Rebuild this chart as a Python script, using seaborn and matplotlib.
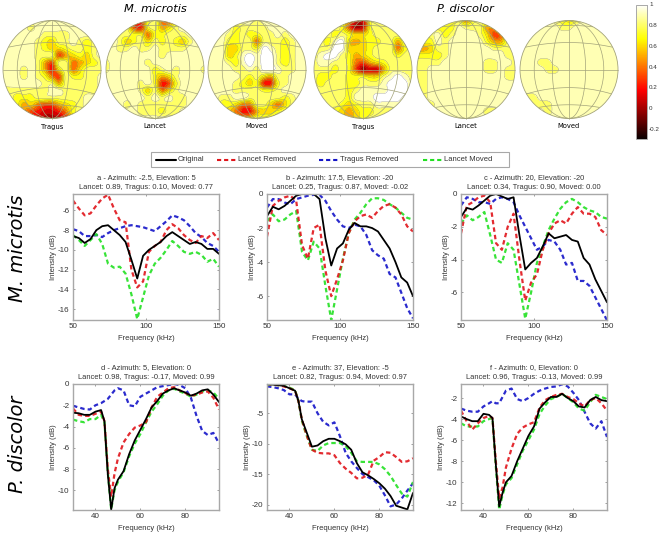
import numpy as np
import seaborn as sns
import matplotlib
matplotlib.use("Agg")
import matplotlib.pyplot as plt
from matplotlib.cm import ScalarMappable
from matplotlib.colors import Normalize
from matplotlib.lines import Line2D
from matplotlib.patches import Circle, Rectangle

tragus_mm = [
    [9,9,9,9,9,9,9,9,9,9,9,9,9,9,9],
    [9,9,9,9,8,9,9,9,9,9,9,9,9,9,9],
    [9,9,9,9,9,9,8,8,8,8,9,9,9,9,9],
    [9,9,9,9,9,8,7,6,8,8,9,8,7,8,9],
    [9,9,9,9,9,8,7,6,6,7,8,8,7,8,9],
    [9,9,9,9,9,8,8,8,3,5,6,7,6,8,9],
    [9,9,9,9,9,8,5,3,8,8,4,5,6,7,8],
    [9,9,9,8,9,8,5,2,6,8,4,6,8,8,8],
    [9,9,9,8,9,8,7,4,3,8,7,7,8,8,9],
    [9,9,9,9,9,9,8,8,5,8,8,8,8,8,9],
    [8,8,8,8,8,8,8,9,9,8,8,8,8,8,9],
    [9,8,7,7,7,8,8,8,8,8,8,8,9,9,9],
    [9,8,7,5,6,4,3,3,5,6,7,8,9,9,9],
    [9,8,7,5,3,2,1,1,2,4,7,8,9,9,9],
    [9,9,8,6,3,1,0,0,0,2,6,8,9,9,9],
]
lancet_mm = [
    [9,9,9,9,5,3,7,8,4,3,6,9,9,9,9],
    [9,9,9,8,3,2,7,8,5,6,8,9,9,9,9],
    [9,9,8,8,7,7,4,7,7,8,8,8,9,9,9],
    [9,9,8,6,7,8,6,8,7,8,7,6,8,9,9],
    [9,9,8,8,9,8,8,9,8,8,8,8,9,9,9],
    [9,9,9,9,9,9,9,9,8,9,9,9,9,9,9],
    [8,9,9,9,9,9,8,9,9,9,9,9,9,9,9],
    [8,9,9,9,9,9,9,7,8,9,8,9,9,9,8],
    [9,9,9,9,9,9,9,7,5,6,8,9,9,9,9],
    [9,9,9,9,9,8,9,7,2,3,7,9,9,9,9],
    [9,9,9,9,9,8,6,8,4,6,8,9,9,9,9],
    [9,9,9,9,9,9,8,9,8,9,8,8,9,9,9],
    [9,9,9,8,9,8,8,8,8,8,8,8,9,9,9],
    [9,9,9,9,9,8,8,8,7,8,8,9,9,9,9],
    [9,9,9,9,9,9,9,9,9,9,9,9,9,9,9],
]
moved_mm = [
    [9,9,9,9,9,9,9,8,9,9,9,9,9,9,9],
    [9,9,9,9,7,8,8,8,8,9,9,9,9,9,9],
    [9,9,9,8,7,8,7,7,8,8,9,8,9,9,9],
    [9,9,9,7,7,8,8,4,8,8,8,7,8,9,9],
    [9,9,9,6,6,8,8,7,10,9,8,7,8,9,9],
    [9,9,9,6,7,9,10,9,10,10,8,7,8,9,9],
    [9,9,9,8,7,9,10,9,10,10,8,7,8,9,9],
    [9,9,9,9,8,8,9,8,10,10,9,8,8,9,9],
    [9,9,9,9,9,8,7,8,6,5,8,8,9,9,9],
    [9,9,9,9,8,7,6,7,2,2,7,8,9,9,9],
    [9,9,9,9,8,8,8,8,7,7,8,9,9,9,9],
    [9,9,8,8,9,9,8,8,8,8,8,7,8,9,9],
    [9,9,7,7,6,4,4,8,8,6,4,6,8,9,9],
    [9,9,8,6,4,2,2,5,6,6,7,8,9,9,9],
    [9,9,9,8,6,5,6,8,8,8,9,9,9,9,9],
]
tragus_pd = [
    [8,8,8,8,8,5,1,1,7,8,8,8,8,8,8],
    [8,8,8,8,7,3,0,1,7,8,8,8,8,8,8],
    [8,8,8,7,8,7,6,6,7,8,8,8,8,8,8],
    [8,8,7,9,10,6,5,6,7,7,8,8,5,8,8],
    [8,8,8,10,10,6,6,6,7,8,8,8,4,7,8],
    [8,9,10,10,8,7,5,6,7,8,8,8,7,8,8],
    [8,9,9,8,8,7,4,3,5,6,7,8,8,8,8],
    [8,8,8,7,8,7,3,0,1,1,5,8,8,8,8],
    [8,7,7,8,8,7,7,7,6,6,8,9,10,9,8],
    [8,7,8,8,8,7,7,8,8,8,9,10,10,10,8],
    [8,8,8,8,8,7,8,9,9,9,9,10,10,10,8],
    [8,8,8,8,8,7,9,9,9,10,10,10,10,9,8],
    [8,8,8,8,7,6,7,8,8,9,9,9,9,8,8],
    [8,8,8,7,6,5,6,7,7,8,8,8,8,8,8],
    [8,8,8,7,6,5,6,7,8,8,8,8,8,8,8],
]
lancet_pd = [
    [9,9,9,8,8,7,7,4,7,8,8,9,9,9,9],
    [8,8,8,7,7,7,9,8,8,8,5,5,9,9,9],
    [8,8,8,9,7,8,9,9,9,8,6,3,4,8,8],
    [7,7,7,9,8,9,9,9,9,9,7,5,5,8,8],
    [5,5,6,8,8,9,9,9,9,9,9,8,8,8,8],
    [7,7,7,7,8,9,9,9,9,9,9,9,9,8,8],
    [8,8,8,8,9,9,9,9,9,9,8,8,9,9,8],
    [8,8,9,9,9,9,9,9,9,9,8,8,9,8,8],
    [8,8,9,9,9,9,9,9,9,9,9,9,9,8,8],
    [8,8,9,9,9,9,9,9,9,9,9,9,9,9,9],
    [8,8,9,9,9,9,9,9,9,9,9,9,9,9,9],
    [8,8,9,9,9,9,9,9,9,9,9,9,9,9,9],
    [8,8,8,9,9,9,9,9,9,9,9,9,9,9,9],
    [9,9,9,9,9,9,9,9,9,9,8,8,9,9,9],
    [9,9,9,9,9,9,9,9,9,9,9,9,9,9,9],
]
moved_pd = [
    [9,9,9,9,9,8,7,6,7,9,9,9,9,9,9],
    [9,9,9,9,9,9,8,8,9,9,9,9,9,9,9],
    [9,9,9,9,9,9,9,9,9,9,9,9,9,9,9],
    [9,9,9,9,9,9,9,9,9,9,9,9,9,9,9],
    [9,9,9,9,9,9,9,9,9,9,9,9,9,9,9],
    [9,9,9,9,9,9,9,9,9,9,9,9,9,9,9],
    [9,9,9,8,8,9,9,9,9,9,9,9,9,9,9],
    [9,9,9,9,8,8,9,9,9,9,9,9,9,9,9],
    [9,9,9,9,9,9,9,9,9,9,9,9,9,9,9],
    [9,9,9,9,9,9,9,9,9,9,9,9,9,9,9],
    [9,9,9,9,9,9,9,9,9,9,9,9,9,9,9],
    [9,8,8,9,9,9,9,9,9,9,9,9,9,9,9],
    [9,9,8,8,8,9,9,9,9,9,9,9,9,9,9],
    [9,9,9,9,8,9,9,9,9,9,9,9,9,9,9],
    [9,9,9,9,9,9,9,9,9,9,9,9,9,9,9],
]
dome_maps = [tragus_mm, lancet_mm, moved_mm, tragus_pd, lancet_pd, moved_pd]
dome_labels = ["Tragus", "Lancet", "Moved", "Tragus", "Lancet", "Moved"]
dome_centres = [52, 155, 257, 363, 466, 569]

# ---- frequency curves
freq_top = [50,54,58,62,66,70,74,78,82,86,90,94,98,102,106,110,114,118,122,126,130,134,138,142,146,150]
freq_bottom = [30,32.5,35,37.5,40,42.5,44,45.5,47,48.5,50,52.5,55,57.5,60,62.5,65,67.5,70,72.5,75,77.5,80,82.5,85,87.5,90,92.5,95]

a_orig = [-8.6,-8.8,-9.3,-8.9,-8.0,-7.6,-7.5,-8.0,-8.5,-9.2,-11.0,-12.9,-10.6,-10.0,-9.6,-9.2,-8.6,-8.2,-8.6,-9.0,-9.4,-9.2,-9.4,-9.9,-9.9,-10.4]
a_lancet = [-5.0,-5.8,-6.5,-6.3,-5.5,-4.8,-4.4,-5.8,-7.0,-7.2,-12.0,-13.8,-13.2,-10.2,-9.6,-9.2,-8.0,-7.4,-7.8,-8.5,-9.0,-9.3,-8.6,-8.8,-8.3,-9.0]
a_tragus = [-7.9,-8.1,-8.6,-8.6,-8.5,-8.7,-8.3,-8.0,-7.8,-7.6,-7.5,-7.6,-7.7,-7.9,-8.1,-7.6,-7.1,-6.5,-6.7,-7.0,-7.6,-8.3,-8.7,-9.3,-9.6,-10.2]
a_moved = [-8.5,-9.0,-9.6,-9.0,-8.4,-9.4,-11.4,-11.8,-11.7,-12.4,-14.5,-17.0,-14.8,-12.6,-11.4,-10.8,-10.0,-9.1,-9.6,-10.2,-10.4,-10.2,-10.5,-11.2,-10.9,-11.7]

b_orig = [-1.3,-0.75,-0.9,-0.7,-0.4,-0.1,0,0,0,-0.3,-2.6,-4.2,-3.2,-2.9,-2.1,-1.7,-1.9,-1.9,-2.0,-2.2,-2.7,-3.2,-4.0,-4.9,-5.2,-6.0]
b_lancet = [-2.5,-0.7,-0.4,-0.2,-0.1,-0.4,-3.0,-3.8,-2.0,-1.8,-4.5,-6.0,-5.0,-3.9,-2.3,-1.6,-1.3,-1.2,-1.4,-1.0,-0.7,-0.6,-0.8,-1.2,-1.9,-2.2]
b_tragus = [-0.8,-0.3,-0.3,-0.5,-0.6,-0.3,-0.2,-0.1,-0.05,-0.05,-0.4,-1.0,-1.5,-1.9,-2.0,-1.8,-1.9,-2.4,-3.3,-3.6,-3.8,-4.7,-4.9,-5.8,-6.7,-7.3]
b_moved = [-1.6,-1.2,-1.6,-1.5,-1.2,-1.0,-3.4,-3.9,-2.8,-3.2,-5.4,-7.4,-5.6,-3.8,-2.3,-1.5,-1.1,-0.6,-0.25,-0.25,-0.35,-0.6,-0.8,-1.1,-1.4,-1.5]

c_orig = [-1.4,-0.85,-0.95,-0.7,-0.4,-0.1,0,-0.15,-0.3,-0.2,-2.5,-4.6,-4.2,-3.9,-3.2,-2.4,-2.7,-2.6,-2.5,-2.8,-2.9,-3.9,-4.3,-5.2,-5.9,-6.6]
c_lancet = [-2.4,-0.7,-0.5,-0.2,-0.1,-0.5,-3.0,-3.4,-2.0,-1.2,-4.0,-6.5,-5.4,-4.9,-3.4,-2.4,-1.8,-1.6,-1.8,-1.2,-0.8,-1.2,-1.2,-1.4,-2.2,-2.5]
c_tragus = [-0.7,-0.2,-0.3,-0.5,-0.5,-0.6,-0.3,-0.2,-0.3,-0.5,-1.3,-2.0,-2.7,-3.4,-3.2,-2.8,-2.9,-3.4,-4.3,-4.2,-5.3,-5.3,-5.6,-6.3,-7.0,-7.7]
c_moved = [-1.8,-1.3,-1.6,-1.4,-1.1,-2.5,-4.0,-4.2,-3.0,-3.4,-5.5,-7.6,-6.0,-4.2,-3.2,-2.2,-1.5,-0.9,-0.5,-0.3,-0.5,-0.8,-1.0,-1.1,-1.4,-1.5]

d_orig = [-2.7,-2.75,-2.9,-2.9,-2.6,-2.45,-3.5,-8.5,-11.8,-9.8,-9.0,-8.2,-6.6,-5.3,-4.3,-3.3,-2.2,-1.6,-0.9,-0.6,-0.4,-0.6,-0.8,-1.1,-0.9,-0.6,-0.5,-1.0,-1.7]
d_lancet = [-2.3,-2.9,-3.0,-3.0,-2.8,-2.6,-3.5,-8.0,-10.6,-8.4,-7.0,-5.5,-4.7,-4.1,-3.9,-3.6,-2.2,-1.2,-0.8,-0.4,-0.3,-0.6,-0.85,-1.1,-1.0,-0.8,-0.7,-1.3,-2.4]
d_tragus = [-2.05,-2.2,-2.35,-2.4,-2.0,-1.8,-1.6,-1.4,-1.0,-0.6,-0.4,-0.6,-2.0,-2.1,-1.2,-0.9,-0.6,-0.3,-0.2,-0.1,0,-0.1,-0.4,-1.3,-3.0,-4.4,-4.8,-4.6,-5.6]
d_moved = [-3.35,-3.5,-3.6,-3.3,-3.3,-2.9,-3.6,-8.3,-11.8,-10,-9.2,-8.3,-6.8,-5.6,-4.7,-3.6,-2.6,-1.9,-1.1,-0.6,-0.45,-0.7,-0.9,-1.2,-1.0,-0.7,-0.6,-0.8,-1.4]

e_orig = [-0.2,-0.3,-0.4,-0.5,-0.9,-1.3,-3,-6,-7.5,-9,-10.5,-10.3,-9.6,-9.2,-9.2,-9.6,-10.1,-11.0,-13.2,-14.7,-15.2,-15.8,-16.5,-17.4,-18.6,-20.2,-20.5,-20.8,-18.1]
e_lancet = [-0.2,-0.3,-0.4,-0.6,-0.9,-1.3,-3,-6,-7.8,-9.5,-11,-11.5,-11.6,-11.6,-11.9,-13.2,-14.1,-14.8,-15.7,-15.6,-15.1,-12.8,-12.2,-11.4,-11.5,-12.2,-13,-12.9,-12.4]
e_tragus = [-0.6,-0.7,-0.9,-1.2,-1.9,-1.9,-2.6,-3.0,-3.1,-3.1,-3.1,-5.0,-6.4,-7,-6.5,-8.8,-11.5,-12.9,-14,-15,-15.5,-16,-16.9,-18.5,-20.3,-20,-19,-17.7,-16.5]
e_moved = [-0.3,-0.3,-0.4,-0.5,-0.8,-1.2,-3,-6.2,-8,-9.5,-11,-11.2,-10.3,-9.9,-9.9,-9.9,-10.4,-11.5,-12.9,-13,-13,-13,-13.4,-14.2,-15.3,-16.8,-18.2,-18.7,-16.3]

f_orig = [-3.75,-4,-4.2,-4.2,-3.5,-3.6,-3.9,-8.3,-12.3,-11,-10,-9.4,-8,-6.8,-5.6,-4.7,-3,-2.4,-1.9,-1.9,-1.6,-2,-2.3,-2.8,-2.9,-2.2,-1.9,-2.2,-2.3]
f_lancet = [-3.2,-4.2,-5.0,-4.4,-3.9,-3.7,-3.9,-8,-11.5,-10.5,-8.6,-6.8,-5.4,-4.8,-4.5,-4.3,-2.9,-2.2,-1.9,-1.7,-1.6,-1.9,-2.1,-2.5,-2.8,-2.2,-2,-2.5,-3.2]
f_tragus = [-3,-3.2,-3.3,-3.3,-2.8,-2.5,-2.3,-2.5,-2.5,-1.9,-1.3,-1.1,-2.1,-2.3,-2.0,-1.6,-1.3,-1.1,-0.95,-0.9,-0.7,-0.9,-1.5,-2.2,-3.3,-4.4,-4.9,-4.2,-5.7]
f_moved = [-4.4,-4.7,-4.7,-4.7,-4.2,-4,-3.9,-8.5,-12.6,-11.2,-10.2,-9.6,-8.3,-7.0,-6.0,-5,-3.5,-2.7,-2.1,-1.9,-1.6,-2,-2.4,-3,-3.2,-2.4,-1.7,-1.9,-2.1]

panel_titles = [
    "a - Azimuth: -2.5, Elevation: 5\nLancet: 0.89, Tragus: 0.10, Moved: 0.77",
    "b - Azimuth: 17.5, Elevation: -20\nLancet: 0.25, Tragus: 0.87, Moved: -0.02",
    "c - Azimuth: 20, Elevation: -20\nLancet: 0.34, Tragus: 0.90, Moved: 0.00",
    "d - Azimuth: 5, Elevation: 0\nLancet: 0.98, Tragus: -0.17, Moved: 0.99",
    "e - Azimuth: 37, Elevation: -5\nLancet: 0.82, Tragus: 0.94, Moved: 0.97",
    "f - Azimuth: 0, Elevation: 0\nLancet: 0.96, Tragus: -0.13, Moved: 0.99",
]
panel_curves = [
    (a_orig, a_lancet, a_tragus, a_moved),
    (b_orig, b_lancet, b_tragus, b_moved),
    (c_orig, c_lancet, c_tragus, c_moved),
    (d_orig, d_lancet, d_tragus, d_moved),
    (e_orig, e_lancet, e_tragus, e_moved),
    (f_orig, f_lancet, f_tragus, f_moved),
]
panel_ylims = [(-17.1, -4.34), (-7.4, 0), (-7.68, 0), (-11.85, 0), (-20.9, -0.2), (-12.63, -0.67)]
panel_yticks = [
    [-16, -14, -12, -10, -8, -6],
    [-6, -4, -2, 0],
    [-6, -4, -2, 0],
    [-10, -8, -6, -4, -2, 0],
    [-20, -15, -10, -5],
    [-12, -10, -8, -6, -4, -2],
]
top_xticks = [50, 100, 150]
bottom_xticks = [40, 60, 80]
series_names = ["Original", "Lancet Removed", "Tragus Removed", "Lancet Moved"]

W, H = 661, 535
TEXT = "#333333"
FRAME = "#a8a8a8"
GRATICULE = "#a3a37a"
RED, BLUE, GREEN = "#e0141a", "#1414c8", "#22e022"
DASH = (0, (2.0, 1.4))

sns.set_style("white")
plt.rcParams["font.family"] = ["Liberation Sans", "DejaVu Sans"]
plt.rcParams["axes.unicode_minus"] = False

fig = plt.figure(figsize=(W / 100, H / 100), dpi=100)


def px_axes(left, top, right, bottom):
    return fig.add_axes([left / W, 1 - bottom / H, (right - left) / W, (bottom - top) / H])


def px_text(x, y, s, **kw):
    return fig.text(x / W, 1 - y / H, s, ha="center", va="center", **kw)


def refine(z, n=6):
    # Catmull-Rom along each axis, keeps the read values at the nodes
    def along(a):
        p = np.vstack([2 * a[0] - a[1], a, 2 * a[-1] - a[-2]])
        out = []
        for k in range(1, len(p) - 2):
            for u in np.arange(n) / n:
                out.append(0.5 * (2 * p[k] + (p[k + 1] - p[k - 1]) * u
                                  + (2 * p[k - 1] - 5 * p[k] + 4 * p[k + 1] - p[k + 2]) * u ** 2
                                  + (3 * p[k] - p[k - 1] - 3 * p[k + 1] + p[k + 2]) * u ** 3))
        out.append(a[-1])
        return np.array(out)
    fine = along(along(z).T).T
    # no overshoot past the corners of each cell
    idx = np.minimum(np.arange(fine.shape[0]) // n, z.shape[0] - 2)
    corners = np.stack([z[:-1, :-1], z[1:, :-1], z[:-1, 1:], z[1:, 1:]])
    lo = corners.min(axis=0)[np.ix_(idx, idx)]
    hi = corners.max(axis=0)[np.ix_(idx, idx)]
    return np.clip(fine, lo, hi)


# the domes
norm = Normalize(-0.3, 1.0)
levels = np.arange(-0.35, 1.06, 0.1)
t = np.linspace(-1, 1, 121)
for centre, name, tenths in zip(dome_centres, dome_labels, dome_maps):
    ax = px_axes(centre - 50, 19.5, centre + 50, 119.5)
    ax.set_xlim(-50 / 49, 50 / 49)
    ax.set_ylim(-50 / 49, 50 / 49)
    ax.axis("off")
    z = refine(np.array(tenths, dtype=float)[::-1] / 10)
    grid = np.linspace(-1, 1, z.shape[0])
    disc = Circle((0, 0), 1, transform=ax.transData, fc="none", ec="none")
    ax.add_patch(disc)
    cf = ax.contourf(grid, grid, z, levels=levels, cmap="hot", norm=norm)
    cl = ax.contour(grid, grid, z, levels=levels, colors="#55552a", linewidths=0.25, alpha=0.65)
    cf.set_clip_path(disc)
    cl.set_clip_path(disc)
    # graticule
    for s in (-0.71, -0.34, 0.0, 0.34, 0.71):
        ax.plot(s * np.sqrt(1 - t ** 2), t, color=GRATICULE, lw=0.5)
    ax.plot(t, 0 * t, color=GRATICULE, lw=0.5)
    for y0, d in ((0.55, 0.12), (-0.37, 0.17), (-0.72, 0.14), (0.9, 0.12)):
        xs = t[np.abs(t) ** 2 + (y0 - d * t ** 2) ** 2 <= 1]
        ax.plot(xs, y0 - d * xs ** 2, color=GRATICULE, lw=0.5)
    ax.add_patch(Circle((0, 0), 1, fc="none", ec=GRATICULE, lw=0.6))
    px_text(centre, 126.5, name, fontsize=4.9, family="DejaVu Sans", color="black")

px_text(155, 9.5, "M. microtis", fontsize=8.2, style="italic", family="DejaVu Sans", color="black")
px_text(465, 9.5, "P. discolor", fontsize=8.2, style="italic", family="DejaVu Sans", color="black")

# colour bar
cax = px_axes(636, 4.5, 647, 139)
cb = fig.colorbar(ScalarMappable(norm=norm, cmap="hot"), cax=cax)
cb.set_ticks([-0.2, 0, 0.2, 0.4, 0.6, 0.8, 1])
cb.set_ticklabels(["-0.2", "0", "0.2", "0.4", "0.6", "0.8", "1"])
cb.ax.tick_params(labelsize=4.5, length=1.5, width=0.4, pad=1.5, colors=TEXT, direction="in")
cb.outline.set_edgecolor(FRAME)
cb.outline.set_linewidth(0.7)

# the six curve panels
lefts = [73, 267, 461]
for i, (title, curves) in enumerate(zip(panel_titles, panel_curves)):
    row, col = divmod(i, 3)
    top = 194 if row == 0 else 384
    ax = px_axes(lefts[col], top, lefts[col] + 146, top + 126)
    freq = freq_top if row == 0 else freq_bottom
    orig, lancet, tragus, moved = curves
    for vals, colour in ((tragus, BLUE), (moved, GREEN), (lancet, RED)):
        sns.lineplot(x=freq, y=vals, ax=ax, color=colour, lw=1.6, errorbar=None,
                     linestyle=DASH, alpha=0.9)
    sns.lineplot(x=freq, y=orig, ax=ax, color="black", lw=1.3, errorbar=None)
    ax.set_xlim(*((50, 150) if row == 0 else (30, 95)))
    ax.set_ylim(*panel_ylims[i])
    ax.set_xticks(top_xticks if row == 0 else bottom_xticks)
    ax.set_yticks(panel_yticks[i])
    ax.tick_params(labelsize=5.8, length=1.5, width=0.5, pad=2.5, colors=TEXT, direction="in",
                   top=True, right=True, bottom=True, left=True, color="#777777")
    ax.set_xlabel("Frequency (kHz)", fontsize=5.5, color=TEXT, labelpad=3.5)
    ax.set_ylabel("Intensity (dB)", fontsize=5.5, color=TEXT, labelpad=0.5)
    ax.set_title(title, fontsize=5.45, color=TEXT, pad=3.4, linespacing=1.55)
    for spine in ax.spines.values():
        spine.set_edgecolor(FRAME)
        spine.set_linewidth(1.0)

px_text(18, 248, "M. microtis", fontsize=14, style="italic", rotation=90, family="DejaVu Sans", color="black")
px_text(18, 444, "P. discolor", fontsize=14, style="italic", rotation=90, family="DejaVu Sans", color="black")

# shared legend, columns are not evenly spaced so it is laid out by hand
fig.add_artist(Rectangle((151 / W, 1 - 167 / H), 358 / W, 15 / H, transform=fig.transFigure,
                         fc="white", ec=FRAME, lw=0.8))
legend_x = [156, 217, 319, 423]
legend_styles = [("black", "-"), (RED, DASH), (BLUE, DASH), (GREEN, DASH)]
for x0, name, (colour, ls) in zip(legend_x, series_names, legend_styles):
    fig.add_artist(Line2D([x0 / W, (x0 + 20) / W], [1 - 159.5 / H] * 2, color=colour, lw=1.5,
                          linestyle=ls, transform=fig.transFigure))
    fig.text((x0 + 21.5) / W, 1 - 159.5 / H, name, fontsize=5.5, color=TEXT, ha="left", va="center")

fig.savefig("out.png", dpi=100)
